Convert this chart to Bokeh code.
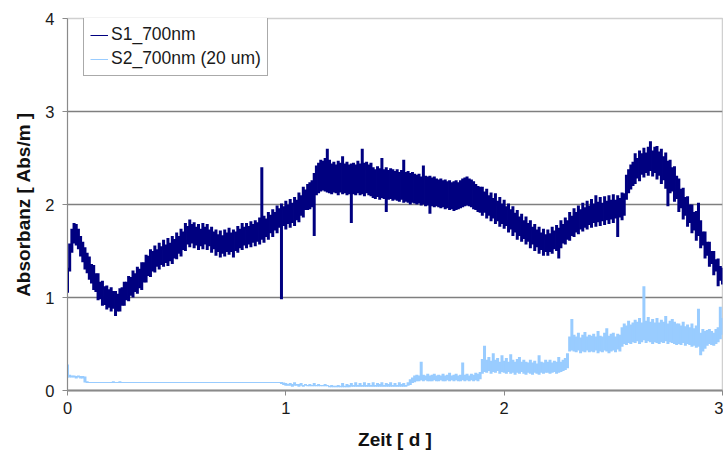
import numpy as np
from bokeh.plotting import figure
from bokeh.models import Range1d, FixedTicker, Legend, LegendItem
from bokeh.embed import file_html
from bokeh.resources import INLINE

# sample grid (days), one reading every 0.01 d; the densely logged traces are
# read off as the lowest / highest value reached in each 0.01 d slot
time_d = np.round(np.arange(0, 301) * 0.01, 2)

s1_low = [
    1.05, 1.28, 1.48, 1.58, 1.56, 1.52, 1.44, 1.38, 1.30, 1.26,
    1.19, 1.15, 1.08, 1.06, 0.97, 0.98, 0.91, 0.92, 0.87, 0.89,
    0.85, 0.88, 0.80, 0.85, 0.85, 0.91, 0.91, 0.97, 0.96, 1.02,
    1.00, 1.06, 1.04, 1.10, 1.08, 1.16, 1.16, 1.23, 1.22, 1.28,
    1.27, 1.33, 1.30, 1.35, 1.33, 1.37, 1.34, 1.39, 1.36, 1.42,
    1.41, 1.47, 1.44, 1.51, 1.50, 1.57, 1.54, 1.58, 1.53, 1.56,
    1.51, 1.55, 1.52, 1.57, 1.51, 1.55, 1.48, 1.52, 1.45, 1.49,
    1.43, 1.47, 1.44, 1.49, 1.46, 1.49, 1.43, 1.50, 1.48, 1.53,
    1.51, 1.56, 1.53, 1.57, 1.54, 1.59, 1.55, 1.60, 1.57, 1.62,
    1.59, 1.65, 1.62, 1.69, 1.65, 1.72, 1.69, 1.75, 0.98, 1.77,
    1.73, 1.79, 1.75, 1.80, 1.77, 1.83, 1.81, 1.88, 1.86, 1.94,
    1.94, 1.95, 1.97, 1.66, 2.10, 2.12, 2.14, 2.15, 2.14, 2.13,
    2.12, 2.11, 2.13, 2.12, 2.10, 2.13, 2.11, 2.12, 2.10, 2.11,
    1.80, 2.11, 2.10, 2.12, 2.10, 2.11, 2.09, 2.12, 2.10, 2.09,
    2.07, 2.06, 2.08, 2.05, 2.07, 2.06, 1.92, 2.05, 2.06, 2.04,
    2.05, 2.04, 2.03, 2.05, 2.02, 2.03, 2.02, 2.00, 2.02, 2.01,
    2.00, 2.01, 1.99, 2.00, 1.98, 1.99, 1.90, 1.98, 1.97, 1.98,
    1.97, 1.96, 1.97, 1.95, 1.96, 1.94, 1.95, 1.93, 1.94, 1.95,
    1.96, 1.97, 1.98, 1.99, 1.98, 1.97, 1.95, 1.94, 1.92, 1.91,
    1.88, 1.91, 1.85, 1.88, 1.82, 1.85, 1.79, 1.82, 1.76, 1.79,
    1.74, 1.77, 1.70, 1.73, 1.66, 1.70, 1.62, 1.66, 1.60, 1.63,
    1.57, 1.60, 1.53, 1.57, 1.50, 1.54, 1.47, 1.51, 1.45, 1.49,
    1.45, 1.49, 1.47, 1.52, 1.50, 1.42, 1.53, 1.58, 1.57, 1.62,
    1.61, 1.66, 1.65, 1.70, 1.68, 1.73, 1.71, 1.75, 1.73, 1.78,
    1.75, 1.80, 1.76, 1.81, 1.77, 1.82, 1.78, 1.83, 1.79, 1.84,
    1.80, 1.85, 1.65, 1.86, 1.83, 1.88, 2.05, 2.12, 2.16, 2.20,
    2.22, 2.28, 2.25, 2.32, 2.29, 2.34, 2.31, 2.36, 2.30, 2.34,
    2.27, 2.31, 2.22, 2.26, 2.17, 1.98, 2.12, 2.14, 2.03, 2.06,
    1.92, 1.96, 1.84, 1.88, 1.76, 1.80, 1.69, 1.72, 1.61, 1.66,
    1.53, 1.56, 1.42, 1.45, 1.33, 1.36, 1.24, 1.28, 1.12, 1.18,
    1.14,
]

s1_high = [
    1.32, 1.58, 1.74, 1.80, 1.79, 1.74, 1.66, 1.60, 1.54, 1.48,
    1.44, 1.36, 1.35, 1.26, 1.26, 1.17, 1.18, 1.12, 1.13, 1.09,
    1.11, 1.07, 1.07, 1.04, 1.10, 1.11, 1.17, 1.17, 1.23, 1.22,
    1.29, 1.26, 1.33, 1.31, 1.38, 1.38, 1.46, 1.45, 1.52, 1.50,
    1.56, 1.52, 1.59, 1.55, 1.62, 1.57, 1.64, 1.59, 1.66, 1.63,
    1.70, 1.66, 1.74, 1.71, 1.80, 1.77, 1.84, 1.79, 1.81, 1.76,
    1.79, 1.74, 1.80, 1.76, 1.79, 1.73, 1.76, 1.71, 1.73, 1.68,
    1.72, 1.67, 1.73, 1.70, 1.75, 1.70, 1.73, 1.71, 1.77, 1.74,
    1.80, 1.76, 1.80, 1.77, 1.82, 1.79, 1.83, 1.81, 1.86, 2.40,
    1.88, 1.85, 1.92, 1.89, 1.95, 1.92, 1.99, 1.96, 2.01, 1.98,
    2.04, 2.00, 2.06, 2.02, 2.08, 2.05, 2.13, 2.10, 2.19, 2.16,
    2.22, 2.24, 2.26, 2.34, 2.42, 2.45, 2.48, 2.47, 2.50, 2.60,
    2.48, 2.44, 2.46, 2.43, 2.47, 2.45, 2.52, 2.44, 2.46, 2.43,
    2.44, 2.45, 2.43, 2.47, 2.44, 2.60, 2.45, 2.46, 2.43, 2.45,
    2.40, 2.38, 2.41, 2.39, 2.50, 2.38, 2.40, 2.37, 2.39, 2.38,
    2.36, 2.38, 2.35, 2.37, 2.48, 2.35, 2.36, 2.34, 2.35, 2.33,
    2.32, 2.33, 2.30, 2.42, 2.31, 2.30, 2.31, 2.29, 2.30, 2.28,
    2.27, 2.28, 2.26, 2.27, 2.25, 2.26, 2.24, 2.25, 2.26, 2.24,
    2.26, 2.28, 2.29, 2.30, 2.28, 2.27, 2.25, 2.22, 2.20, 2.19,
    2.19, 2.14, 2.17, 2.10, 2.13, 2.07, 2.12, 2.04, 2.08, 2.01,
    2.05, 1.98, 2.01, 1.95, 1.98, 1.91, 1.94, 1.87, 1.90, 1.83,
    1.87, 1.80, 1.83, 1.76, 1.79, 1.73, 1.76, 1.70, 1.74, 1.68,
    1.73, 1.69, 1.76, 1.72, 1.78, 1.75, 1.83, 1.79, 1.86, 1.83,
    1.92, 1.88, 1.96, 1.92, 1.99, 1.95, 2.02, 1.97, 2.04, 1.99,
    2.06, 2.01, 2.10, 2.03, 2.08, 2.02, 2.09, 2.04, 2.10, 2.05,
    2.11, 2.05, 2.10, 2.07, 2.13, 2.12, 2.32, 2.38, 2.43, 2.46,
    2.55, 2.50, 2.58, 2.55, 2.61, 2.56, 2.62, 2.68, 2.58, 2.62,
    2.63, 2.57, 2.60, 2.52, 2.56, 2.47, 2.48, 2.40, 2.41, 2.31,
    2.28, 2.17, 2.18, 2.08, 2.09, 2.00, 2.00, 1.92, 1.93, 2.02,
    1.83, 1.71, 1.71, 1.60, 1.60, 1.50, 1.50, 1.41, 1.42, 1.34,
    1.32,
]

s2_low = [
    0.14, 0.14, 0.14, 0.14, 0.13, 0.14, 0.13, 0.13, 0.085, 0.08,
    0.08, 0.08, 0.08, 0.08, 0.08, 0.08, 0.08, 0.08, 0.08, 0.08,
    0.08, 0.08, 0.08, 0.08, 0.08, 0.08, 0.08, 0.08, 0.08, 0.08,
    0.08, 0.08, 0.08, 0.08, 0.08, 0.08, 0.08, 0.08, 0.08, 0.08,
    0.08, 0.08, 0.08, 0.08, 0.08, 0.08, 0.08, 0.08, 0.08, 0.08,
    0.08, 0.08, 0.08, 0.08, 0.08, 0.08, 0.08, 0.08, 0.08, 0.08,
    0.08, 0.08, 0.08, 0.08, 0.08, 0.08, 0.08, 0.08, 0.08, 0.08,
    0.08, 0.08, 0.08, 0.08, 0.08, 0.08, 0.08, 0.08, 0.08, 0.08,
    0.08, 0.08, 0.08, 0.08, 0.08, 0.08, 0.08, 0.08, 0.08, 0.08,
    0.08, 0.08, 0.08, 0.08, 0.08, 0.08, 0.08, 0.08, 0.07, 0.06,
    0.05, 0.05, 0.05, 0.04, 0.05, 0.05, 0.04, 0.05, 0.04, 0.05,
    0.045, 0.045, 0.045, 0.045, 0.045, 0.045, 0.045, 0.045, 0.045, 0.045,
    0.035, 0.035, 0.035, 0.035, 0.035, 0.035, 0.035, 0.035, 0.035, 0.035,
    0.04, 0.04, 0.04, 0.04, 0.04, 0.04, 0.04, 0.04, 0.04, 0.04,
    0.04, 0.04, 0.04, 0.04, 0.04, 0.04, 0.04, 0.04, 0.04, 0.04,
    0.04, 0.04, 0.04, 0.04, 0.04, 0.04, 0.05, 0.06, 0.08, 0.09,
    0.10, 0.10, 0.11, 0.10, 0.11, 0.10, 0.10, 0.10, 0.11, 0.10,
    0.10, 0.11, 0.10, 0.10, 0.11, 0.10, 0.11, 0.10, 0.11, 0.10,
    0.10, 0.11, 0.10, 0.11, 0.10, 0.11, 0.10, 0.11, 0.10, 0.12,
    0.18, 0.20, 0.19, 0.21, 0.18, 0.20, 0.19, 0.21, 0.18, 0.20,
    0.19, 0.18, 0.20, 0.18, 0.19, 0.17, 0.19, 0.18, 0.20, 0.18,
    0.17, 0.19, 0.18, 0.17, 0.19, 0.18, 0.17, 0.19, 0.18, 0.19,
    0.19, 0.18, 0.19, 0.20, 0.18, 0.19, 0.20, 0.21, 0.22, 0.24,
    0.42, 0.43, 0.42, 0.41, 0.43, 0.40, 0.42, 0.41, 0.43, 0.41,
    0.42, 0.41, 0.43, 0.40, 0.42, 0.41, 0.43, 0.42, 0.40, 0.42,
    0.43, 0.41, 0.44, 0.42, 0.47, 0.50, 0.49, 0.51, 0.50, 0.52,
    0.51, 0.53, 0.50, 0.52, 0.54, 0.51, 0.53, 0.52, 0.50, 0.52,
    0.51, 0.50, 0.52, 0.51, 0.53, 0.50, 0.52, 0.51, 0.50, 0.49,
    0.50, 0.49, 0.51, 0.48, 0.50, 0.49, 0.47, 0.48, 0.46, 0.47,
    0.38, 0.42, 0.45, 0.48, 0.50, 0.49, 0.48, 0.50, 0.52, 0.55,
    0.60,
]

s2_high = [
    0.28, 0.17, 0.16, 0.16, 0.155, 0.16, 0.155, 0.155, 0.15, 0.10,
    0.092, 0.092, 0.092, 0.092, 0.092, 0.092, 0.092, 0.092, 0.092, 0.092,
    0.092, 0.10, 0.092, 0.092, 0.10, 0.092, 0.092, 0.092, 0.092, 0.092,
    0.092, 0.092, 0.092, 0.092, 0.092, 0.092, 0.092, 0.092, 0.092, 0.092,
    0.092, 0.092, 0.092, 0.092, 0.092, 0.092, 0.092, 0.092, 0.092, 0.092,
    0.092, 0.092, 0.092, 0.092, 0.092, 0.092, 0.092, 0.092, 0.092, 0.092,
    0.092, 0.092, 0.092, 0.092, 0.092, 0.092, 0.092, 0.092, 0.092, 0.092,
    0.092, 0.092, 0.092, 0.092, 0.092, 0.092, 0.092, 0.092, 0.092, 0.092,
    0.092, 0.092, 0.092, 0.092, 0.092, 0.092, 0.092, 0.092, 0.092, 0.092,
    0.092, 0.092, 0.092, 0.092, 0.092, 0.092, 0.092, 0.092, 0.092, 0.085,
    0.08, 0.07, 0.08, 0.07, 0.09, 0.07, 0.07, 0.08, 0.06, 0.07,
    0.06, 0.07, 0.06, 0.08, 0.06, 0.07, 0.06, 0.06, 0.07, 0.06,
    0.05, 0.06, 0.05, 0.05, 0.06, 0.05, 0.08, 0.05, 0.07, 0.06,
    0.08, 0.06, 0.09, 0.06, 0.08, 0.06, 0.09, 0.06, 0.08, 0.06,
    0.09, 0.06, 0.08, 0.07, 0.09, 0.06, 0.08, 0.07, 0.09, 0.06,
    0.08, 0.06, 0.09, 0.07, 0.08, 0.06, 0.09, 0.12, 0.14, 0.16,
    0.17, 0.16, 0.31, 0.17, 0.16, 0.18, 0.16, 0.17, 0.18, 0.16,
    0.17, 0.16, 0.18, 0.16, 0.17, 0.19, 0.16, 0.17, 0.18, 0.16,
    0.17, 0.30, 0.17, 0.18, 0.16, 0.18, 0.17, 0.19, 0.18, 0.20,
    0.34, 0.48, 0.33, 0.36, 0.32, 0.40, 0.33, 0.35, 0.31, 0.38,
    0.32, 0.35, 0.31, 0.39, 0.33, 0.31, 0.34, 0.36, 0.31, 0.33,
    0.31, 0.30, 0.33, 0.30, 0.32, 0.29, 0.38, 0.31, 0.30, 0.33,
    0.31, 0.33, 0.30, 0.32, 0.31, 0.36, 0.31, 0.33, 0.35, 0.40,
    0.58, 0.77, 0.60, 0.58, 0.62, 0.57, 0.60, 0.63, 0.58, 0.60,
    0.59, 0.61, 0.58, 0.64, 0.59, 0.58, 0.62, 0.67, 0.59, 0.61,
    0.62, 0.58, 0.61, 0.60, 0.68, 0.72, 0.70, 0.75, 0.71, 0.73,
    0.76, 0.74, 0.78, 0.73, 1.12, 0.75, 0.79, 0.74, 0.77, 0.73,
    0.78, 0.73, 0.76, 0.74, 0.80, 0.72, 0.75, 0.77, 0.74, 0.72,
    0.72, 0.70, 0.74, 0.69, 0.71, 0.68, 0.72, 0.67, 0.70, 0.88,
    0.62, 0.66, 0.64, 0.65, 0.66, 0.64, 0.62, 0.66, 0.68, 0.90,
    0.78,
]

x_ticks = [0, 1, 2, 3]
y_ticks = [0, 1, 2, 3, 4]
series_names = ["S1_700nm", "S2_700nm (20 um)"]
series_colors = ["#000080", "#99ccff"]

p = figure(width=723, height=452, output_backend="svg", toolbar_location=None,
           x_range=Range1d(0, 3), y_range=Range1d(0, 4),
           min_border_left=67, min_border_right=1, min_border_top=18, min_border_bottom=60)
p.background_fill_color = "white"
p.border_fill_color = "white"
p.outline_line_color = "#d0d0d0"
p.outline_line_width = 1.5

# each 0.01 d slot drawn as a vertical stroke from its lowest to its highest reading
p.segment(x0=time_d, y0=s2_low, x1=time_d, y1=s2_high,
          line_color=series_colors[1], line_width=3, line_cap="butt")
p.segment(x0=time_d, y0=s1_low, x1=time_d, y1=s1_high,
          line_color=series_colors[0], line_width=3, line_cap="butt")

# legend keys (thin lines, nothing plotted)
k1 = p.line([np.nan], [np.nan], line_color=series_colors[0], line_width=1)
k2 = p.line([np.nan], [np.nan], line_color=series_colors[1], line_width=1)

p.xgrid.visible = False
p.ygrid.ticker = FixedTicker(ticks=[1, 2, 3])
p.ygrid.grid_line_color = "#7f7f7f"
p.ygrid.grid_line_width = 1.5

font = "Liberation Sans"
for ax in (p.xaxis[0], p.yaxis[0]):
    ax.major_label_text_font = font
    ax.major_label_text_font_size = "16.5px"
    ax.major_label_text_color = "#1a1a1a"
    ax.axis_label_text_font = font
    ax.axis_label_text_font_style = "bold"
    ax.axis_label_text_font_size = "19px"
    ax.axis_label_text_color = "#111111"
    ax.axis_line_color = "#8a8a8a"
    ax.major_tick_line_color = "#8a8a8a"
    ax.major_tick_in = 0
    ax.major_tick_out = 5
    ax.minor_tick_line_color = None

p.xaxis[0].ticker = FixedTicker(ticks=x_ticks)
p.yaxis[0].ticker = FixedTicker(ticks=y_ticks)
p.xaxis[0].axis_line_width = 2
p.xaxis[0].axis_label = "Zeit [ d ]"
p.yaxis[0].axis_label = "Absorbanz [ Abs/m ]"
p.xaxis[0].major_label_standoff = 6
p.yaxis[0].major_label_standoff = 8
p.xaxis[0].axis_label_standoff = 12
p.yaxis[0].axis_label_standoff = 8

legend = Legend(items=[LegendItem(label=series_names[0], renderers=[k1]),
                       LegendItem(label=series_names[1], renderers=[k2])],
                location=(16, 314))
legend.label_text_font = font
legend.label_text_font_size = "17.5px"
legend.label_text_color = "#1a1a1a"
legend.border_line_color = "#555555"
legend.border_line_width = 1
legend.background_fill_alpha = 1
legend.glyph_width = 18
legend.glyph_height = 18
legend.label_height = 18
legend.label_standoff = 3
legend.spacing = 3
legend.padding = 6
legend.margin = 0
p.add_layout(legend)

open("out.html", "w").write(file_html(p, INLINE))
